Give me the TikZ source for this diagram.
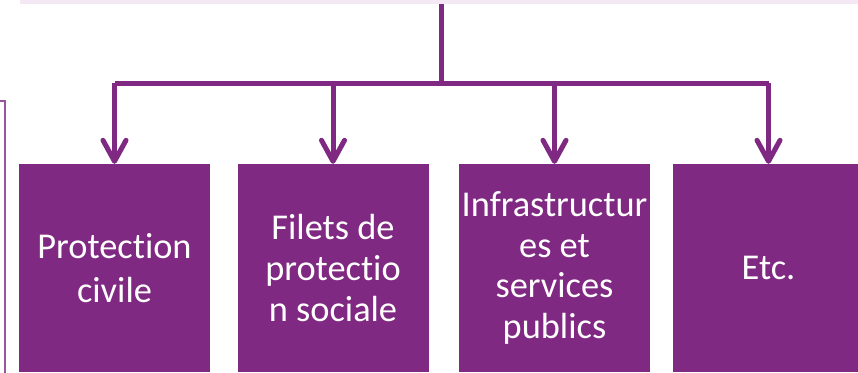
\documentclass[tikz,border=0pt]{standalone}
\usepackage{fontspec}
\setmainfont{Carlito}[Ligatures=NoCommon]
\usepackage{tikz}
\usetikzlibrary{arrows.meta, positioning}
\definecolor{plum}{HTML}{7F2982}
\definecolor{plumlight}{HTML}{F4E8F5}
\definecolor{plumframe}{HTML}{9B55A0}
\tikzstyle{box} = [rectangle, fill=plum, text=white, align=center, inner sep=0pt, minimum width=191bp, minimum height=208bp, font=\fontsize{36.5}{41}\selectfont]
\tikzstyle{line} = [draw, color=plum, line width=5bp]
\tikzstyle{arrowline} = [line, -{Straight Barb[length=21bp, width=23bp, round]}]

\begin{document}
\begin{tikzpicture}[x=1bp, y=-1bp]
			\useasboundingbox (0,0) rectangle (858,372);
			\node [rectangle, fill=plumlight, inner sep=0pt, minimum width=838bp, minimum height=4bp] (bar) at (439, 2) {};
			\draw [plumframe, line width=1.5bp] (0, 101) -- (5, 101) -- (5, 380);
			\coordinate (split) at (441.5, 83);
			
			\node [box, font=\fontsize{36.5}{44}\selectfont] (civile) at (114.5, 268) {Protection\\civile};
			\node [box] (filets) at (333, 268) {Filets de\\protectio\\n sociale};
			\node [box] (infra) at (554.5, 268) {Infrastructur\\es et\\services\\publics};
			\node [box] (etc) at (768.5, 268) {Etc.};
			
			\path [line] (bar.south -| split) -- (split);
			\path [line] (civile.north |- split) -- (etc.north |- split);
			\path [arrowline] (civile.north |- split) -- (civile.north);
			\path [arrowline] (filets.north |- split) -- (filets.north);
			\path [arrowline] (infra.north |- split) -- (infra.north);
			\path [arrowline] (etc.north |- split) -- (etc.north);
		\end{tikzpicture}
\end{document}
